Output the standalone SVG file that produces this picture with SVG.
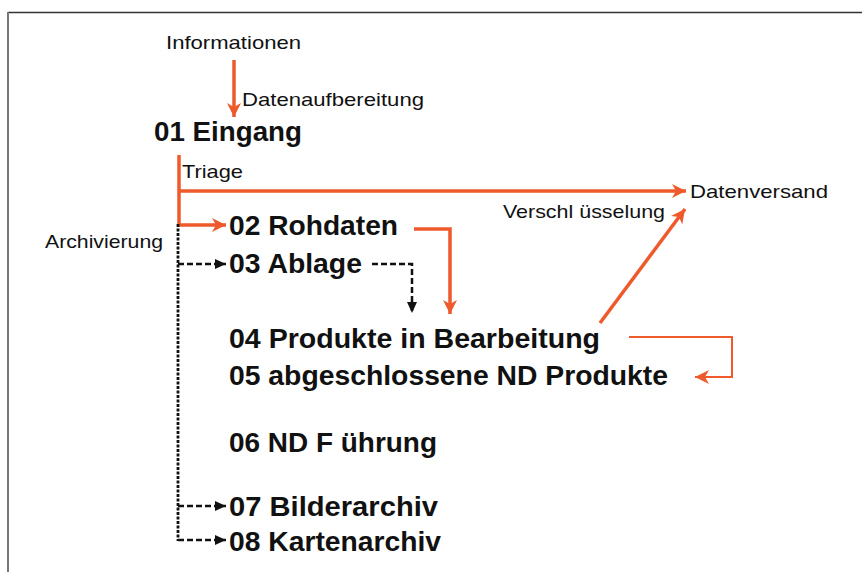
<svg xmlns="http://www.w3.org/2000/svg" width="862" height="572" viewBox="0 0 862 572">
<defs>
<style>
.lbl{font-family:"Liberation Sans",Arial,sans-serif;font-size:18.5px;fill:#111}
.node{font-family:"Liberation Sans",Arial,sans-serif;font-size:27px;font-weight:bold;fill:#111}
.or{fill:none;stroke:#EE5A2B;stroke-width:3.5}
.orthin{fill:none;stroke:#EE5A2B;stroke-width:2}
.dash{fill:none;stroke:#111;stroke-width:2.5;stroke-dasharray:6,3}
.dot{fill:none;stroke:#111;stroke-width:2.8;stroke-dasharray:3,1.5}
</style>
<marker id="ao" markerUnits="userSpaceOnUse" markerWidth="16" markerHeight="14" refX="14" refY="7" orient="auto">
<path d="M0,0 L14,7 L0,14 L4,7 Z" fill="#EE5A2B"/>
</marker>
<marker id="ak" markerUnits="userSpaceOnUse" markerWidth="12" markerHeight="12" refX="11" refY="6" orient="auto">
<path d="M0,1 L11,6 L0,11 Z" fill="#111"/>
</marker>
</defs>
<rect width="862" height="572" fill="#fff"/>
<line x1="8" y1="12.5" x2="862" y2="12.5" stroke="#333" stroke-width="1.6"/>
<line x1="8" y1="12" x2="8" y2="572" stroke="#777" stroke-width="2"/>

<g id="connectors">
<line class="or" x1="234" y1="60" x2="234" y2="117" marker-end="url(#ao)"/>
<line class="or" x1="179" y1="155" x2="179" y2="226" stroke-width="2.5"/>
<line class="or" x1="179" y1="191" x2="686" y2="191" marker-end="url(#ao)"/>
<line class="or" x1="179" y1="225" x2="226" y2="225" stroke-width="3" marker-end="url(#ao)"/>
<line class="dot" x1="178" y1="224" x2="178" y2="541"/>
<polyline class="dash" points="178,264 226,264" marker-end="url(#ak)"/>
<polyline class="dash" points="178,506 226,506" marker-end="url(#ak)"/>
<polyline class="dash" points="178,540 226,540" marker-end="url(#ak)"/>
<polyline class="or" stroke-width="3" points="414,229 450,229 450,314" marker-end="url(#ao)"/>
<polyline class="dash" points="372,264 412,264 412,313" marker-end="url(#ak)"/>
<line class="or" x1="600" y1="323" x2="685" y2="209" marker-end="url(#ao)"/>
<polyline class="orthin" points="629,337 732,337 732,377 695,377" marker-end="url(#ao)"/>
</g>

<g id="labels">
<text class="lbl" x="166" y="49" textLength="135" lengthAdjust="spacingAndGlyphs">Informationen</text>
<text class="lbl" x="242" y="106" textLength="182" lengthAdjust="spacingAndGlyphs">Datenaufbereitung</text>
<text class="lbl" x="182" y="178" textLength="61" lengthAdjust="spacingAndGlyphs">Triage</text>
<text class="lbl" x="690" y="198" textLength="138" lengthAdjust="spacingAndGlyphs">Datenversand</text>
<text class="lbl" x="503" y="218" textLength="162" lengthAdjust="spacingAndGlyphs">Verschl üsselung</text>
<text class="lbl" x="45" y="248" textLength="118" lengthAdjust="spacingAndGlyphs">Archivierung</text>
</g>

<g id="n01"><text class="node" x="154" y="141" font-size="25.5" textLength="148" lengthAdjust="spacingAndGlyphs">01 Eingang</text></g>
<g id="n02"><text class="node" x="229" y="235" textLength="169" lengthAdjust="spacingAndGlyphs">02 Rohdaten</text></g>
<g id="n03"><text class="node" x="229" y="273" textLength="133" lengthAdjust="spacingAndGlyphs">03 Ablage</text></g>
<g id="n04"><text class="node" x="229" y="348" textLength="371" lengthAdjust="spacingAndGlyphs">04 Produkte in Bearbeitung</text></g>
<g id="n05"><text class="node" x="229" y="385" textLength="439" lengthAdjust="spacingAndGlyphs">05 abgeschlossene ND Produkte</text></g>
<g id="n06"><text class="node" x="229" y="452" textLength="208" lengthAdjust="spacingAndGlyphs">06 ND F ührung</text></g>
<g id="n07"><text class="node" x="229" y="516" textLength="209" lengthAdjust="spacingAndGlyphs">07 Bilderarchiv</text></g>
<g id="n08"><text class="node" x="229" y="551" textLength="212" lengthAdjust="spacingAndGlyphs">08 Kartenarchiv</text></g>
</svg>
